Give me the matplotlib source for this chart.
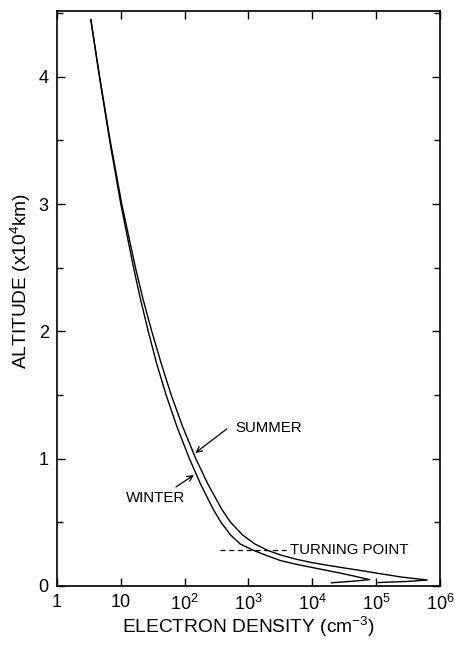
import numpy as np
import matplotlib
matplotlib.use('Agg')
import matplotlib.pyplot as plt
from matplotlib.ticker import FixedLocator, MultipleLocator, NullLocator

plt.rcParams['font.family'] = ['Liberation Sans', 'DejaVu Sans']
plt.rcParams['mathtext.fontset'] = 'custom'
plt.rcParams['mathtext.rm'] = 'Liberation Sans'
plt.rcParams['mathtext.it'] = 'Liberation Sans'

# altitude (x10^4 km) and log10 electron density (cm^-3)
winter_alt = [4.45, 4.0, 3.5, 3.0, 2.5, 2.25, 2.0, 1.75, 1.5, 1.25, 1.0, 0.8, 0.6,
              0.5, 0.4, 0.33, 0.28, 0.24, 0.2, 0.17, 0.15, 0.12, 0.10, 0.075, 0.05,
              0.038, 0.025]
winter_logn = [0.53, 0.665, 0.825, 1.0, 1.2, 1.31, 1.43, 1.56, 1.71, 1.88, 2.075, 2.25, 2.45,
               2.57, 2.72, 2.87, 3.08, 3.28, 3.5, 3.75, 3.95, 4.25, 4.45, 4.68, 4.9,
               4.65, 4.3]
summer_alt = [4.45, 4.0, 3.5, 3.0, 2.5, 2.25, 2.0, 1.75, 1.5, 1.25, 1.0, 0.8, 0.6,
              0.5, 0.4, 0.33, 0.28, 0.244, 0.21, 0.183, 0.16, 0.14, 0.12, 0.10, 0.07, 0.047,
              0.036, 0.027]
summer_logn = [0.53, 0.668, 0.833, 1.015, 1.23, 1.35, 1.485, 1.632, 1.79, 1.97, 2.175, 2.365, 2.585,
               2.72, 2.91, 3.10, 3.3, 3.5, 3.75, 4.0, 4.27, 4.52, 4.78, 5.02, 5.4, 5.8,
               5.5, 5.03]

x_ticks = [1, 10, 1e2, 1e3, 1e4, 1e5, 1e6]
x_tick_labels = ['1', '10', '$10^2$', '$10^3$', '$10^4$', '$10^5$', '$10^6$']
y_ticks = [0, 1, 2, 3, 4]

fig = plt.figure(figsize=(4.57, 6.45), dpi=100)
ax = fig.add_axes([0.1247, 0.0915, 0.838, 0.892])

ax.plot(10 ** np.array(winter_logn), winter_alt, color='black', lw=1.0)
ax.plot(10 ** np.array(summer_logn), summer_alt, color='black', lw=1.0)

ax.set_xscale('log')
ax.set_xlim(1, 1e6)
ax.set_ylim(0, 4.52)

ax.xaxis.set_major_locator(FixedLocator(x_ticks))
ax.xaxis.set_minor_locator(NullLocator())
ax.set_xticklabels(x_tick_labels)
ax.yaxis.set_major_locator(FixedLocator(y_ticks))
ax.yaxis.set_minor_locator(MultipleLocator(0.5))

ax.tick_params(which='both', direction='in', top=True, right=True, width=1.0)
ax.tick_params(which='major', length=6, labelsize=13, pad=6)
ax.tick_params(which='minor', length=4)
for s in ax.spines.values():
    s.set_linewidth(1.2)

ax.set_xlabel('ELECTRON DENSITY (cm$^{-3}$)', fontsize=13.8, labelpad=0)
ax.set_ylabel('ALTITUDE (x10$^4$km)', fontsize=13.8)
ax.yaxis.set_label_coords(-0.062, 0.53)

# annotations
ax.text(617, 1.24, 'SUMMER', fontsize=10.8, va='center')
ax.annotate('', xy=(147, 1.045), xytext=(457, 1.234),
            arrowprops=dict(arrowstyle='->', lw=0.9, color='black', shrinkA=0, shrinkB=0))
ax.text(35, 0.69, 'WINTER', fontsize=10.8, va='center', ha='center')
ax.annotate('', xy=(140, 0.872), xytext=(73, 0.778),
            arrowprops=dict(arrowstyle='->', lw=0.9, color='black', shrinkA=0, shrinkB=0))
ax.plot([359, 3990], [0.283, 0.283], color='black', lw=0.9, ls=(0, (4, 3)))
ax.text(4500, 0.283, 'TURNING POINT', fontsize=10.8, va='center')

fig.savefig('out.png', dpi=100)
